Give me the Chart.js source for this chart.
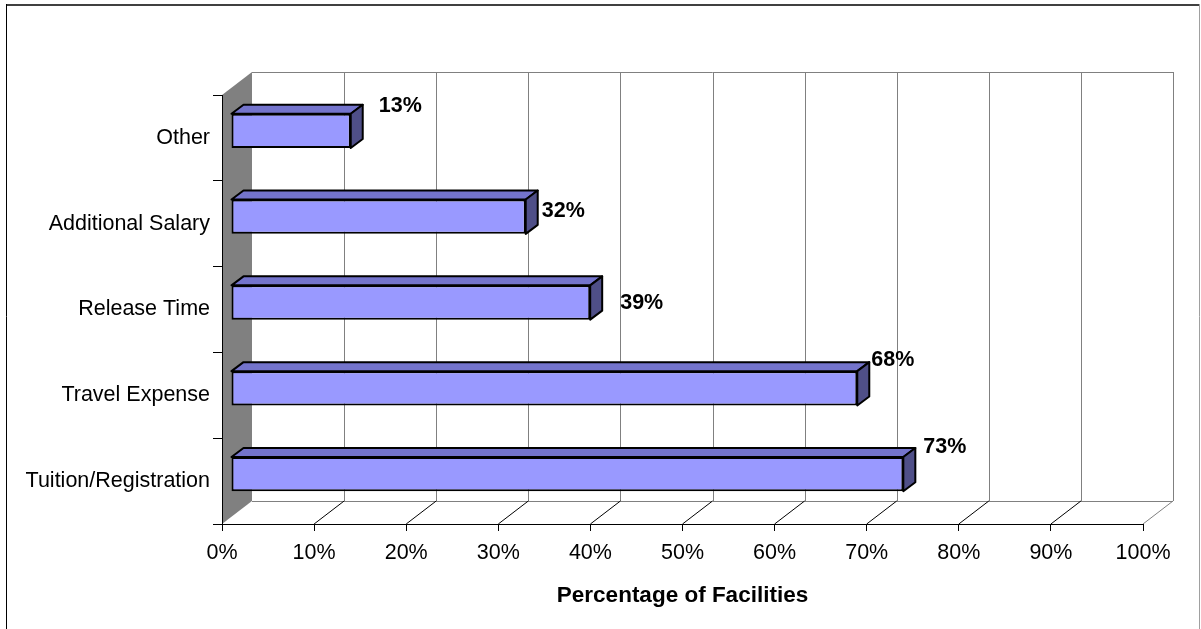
<!DOCTYPE html>
<html>
<head>
<meta charset="utf-8">
<script src="https://cdn.jsdelivr.net/npm/chart.js@4/dist/chart.umd.min.js"></script>
<style>
  html, body { margin:0; padding:0; background:#fff; }
  canvas { display:block; }
</style>
</head>
<body>
<canvas id="support-chart" width="1201" height="629"></canvas>
<script>
const categories = ['Other', 'Additional Salary', 'Release Time', 'Travel Expense', 'Tuition/Registration'];
const shares     = [13, 32, 39, 68, 73];
const xTicks     = [0, 10, 20, 30, 40, 50, 60, 70, 80, 90, 100];
const axisTitle  = 'Percentage of Facilities';

// label nudges from the back-top-right corner of each bar
const labelShift = [[16, 1], [4, 21], [18, 27], [2, -2], [8, -1]];

const FONT  = "'Liberation Sans', Arial, sans-serif";
const DEPTH = { dx: 30, dy: -23 };   // floor depth (front edge -> back wall)
const FACE  = { dx: 9,  dy: -7  };   // bar front face sits this far in
const BODY  = { dx: 12, dy: -9  };   // bar thickness in depth

function line(ctx, x1, y1, x2, y2, color, w) {
  ctx.beginPath();
  ctx.moveTo(x1, y1);
  ctx.lineTo(x2, y2);
  ctx.strokeStyle = color;
  ctx.lineWidth = w || 1;
  ctx.stroke();
}

const box3d = {
  id: 'box3d',
  beforeDraw(chart) {
    const ctx = chart.ctx;
    const xs = chart.scales.x, a = chart.chartArea;
    const L = a.left, B = a.bottom, T = a.top;
    ctx.save();

    // frame around the whole chart
    line(ctx, 6, 5, 1199, 5, '#404040', 2);
    line(ctx, 6.5, 4, 6.5, 629, '#000', 1);
    line(ctx, 1199.5, 4, 1199.5, 629, '#a0a0a0', 1);

    // left side wall
    ctx.beginPath();
    ctx.moveTo(L, T);
    ctx.lineTo(L + DEPTH.dx, T + DEPTH.dy);
    ctx.lineTo(L + DEPTH.dx, B + DEPTH.dy);
    ctx.lineTo(L, B);
    ctx.closePath();
    ctx.fillStyle = '#808080';
    ctx.fill();

    const backTop = T + DEPTH.dy, backBot = B + DEPTH.dy;
    const x0 = xs.getPixelForValue(0) + DEPTH.dx;
    const x1 = xs.getPixelForValue(100) + DEPTH.dx;

    // back wall: gridlines and outline
    xTicks.forEach(v => {
      const px = Math.round(xs.getPixelForValue(v) + DEPTH.dx) + 0.5;
      if (v > 0) line(ctx, px, backTop, px, backBot, '#808080', 1);
    });
    line(ctx, x0, backTop + 0.5, x1, backTop + 0.5, '#808080', 1);
    line(ctx, x0, backBot + 0.5, x1, backBot + 0.5, '#808080', 1);

    // floor diagonals
    xTicks.forEach(v => {
      if (v === 0) return;
      const px = xs.getPixelForValue(v);
      line(ctx, px, B, px + DEPTH.dx, backBot, v === 100 ? '#808080' : '#000', 1);
    });
    ctx.restore();
  },
  beforeDatasetsDraw(chart) {
    const ctx = chart.ctx;
    ctx.save();
    ctx.translate(FACE.dx, FACE.dy);
    chart.getDatasetMeta(0).data.forEach(bar => {
      const top = bar.y - bar.height / 2, bot = bar.y + bar.height / 2;
      ctx.lineWidth = 2;
      ctx.lineJoin = 'round';
      ctx.strokeStyle = '#000';
      // top face
      ctx.beginPath();
      ctx.moveTo(bar.base, top);
      ctx.lineTo(bar.base + BODY.dx, top + BODY.dy);
      ctx.lineTo(bar.x + BODY.dx, top + BODY.dy);
      ctx.lineTo(bar.x, top);
      ctx.closePath();
      ctx.fillStyle = '#7474cc';
      ctx.fill();
      ctx.stroke();
      // end face
      ctx.beginPath();
      ctx.moveTo(bar.x, top);
      ctx.lineTo(bar.x + BODY.dx, top + BODY.dy);
      ctx.lineTo(bar.x + BODY.dx, bot + BODY.dy);
      ctx.lineTo(bar.x, bot);
      ctx.closePath();
      ctx.fillStyle = '#4f4f88';
      ctx.fill();
      ctx.stroke();
    });
    // front faces are drawn by Chart.js under this translation
  },
  afterDatasetsDraw(chart) {
    const ctx = chart.ctx;
    ctx.restore();
    ctx.save();
    ctx.font = 'bold 21.5px ' + FONT;
    ctx.fillStyle = '#000';
    ctx.textAlign = 'left';
    ctx.textBaseline = 'middle';
    chart.getDatasetMeta(0).data.forEach((bar, i) => {
      const bx = bar.x + FACE.dx + BODY.dx;
      const by = bar.y - bar.height / 2 + FACE.dy + BODY.dy;
      ctx.fillText(shares[i] + '%', bx + labelShift[i][0], by + labelShift[i][1]);
    });
    ctx.restore();
  }
};

new Chart(document.getElementById('support-chart'), {
  type: 'bar',
  data: {
    labels: categories,
    datasets: [{
      data: shares,
      backgroundColor: '#9999ff',
      borderColor: '#000',
      borderWidth: 2,
      borderSkipped: false,
      barPercentage: 0.4,
      categoryPercentage: 1,
      clip: false
    }]
  },
  options: {
    indexAxis: 'y',
    responsive: false,
    animation: false,
    events: [],
    layout: { padding: { top: 95, right: 58, left: 0, bottom: 0 } },
    plugins: { legend: { display: false }, tooltip: { enabled: false } },
    scales: {
      x: {
        min: 0, max: 100,
        afterBuildTicks: s => { s.ticks = xTicks.map(v => ({ value: v })); },
        afterFit: s => { s.height = 105; },
        ticks: {
          callback: v => v + '%',
          color: '#000', font: { family: FONT, size: 21.5 },
          padding: 9, maxRotation: 0, autoSkip: false
        },
        grid: { display: true, drawOnChartArea: false, drawTicks: true, tickLength: 7, color: '#000' },
        border: { display: true, color: '#000', width: 1 },
        title: {
          display: true, text: axisTitle, color: '#000',
          font: { family: FONT, size: 22.5, weight: 'bold' },
          padding: { top: 0, bottom: 20 }
        }
      },
      y: {
        afterFit: s => { s.width = 222; },
        ticks: { color: '#000', font: { family: FONT, size: 21.5 }, padding: 3, autoSkip: false },
        grid: { display: true, drawOnChartArea: false, drawTicks: true, tickLength: 9, color: '#000', offset: true },
        border: { display: true, color: '#000', width: 1 }
      }
    }
  },
  plugins: [box3d]
});
</script>
</body>
</html>
